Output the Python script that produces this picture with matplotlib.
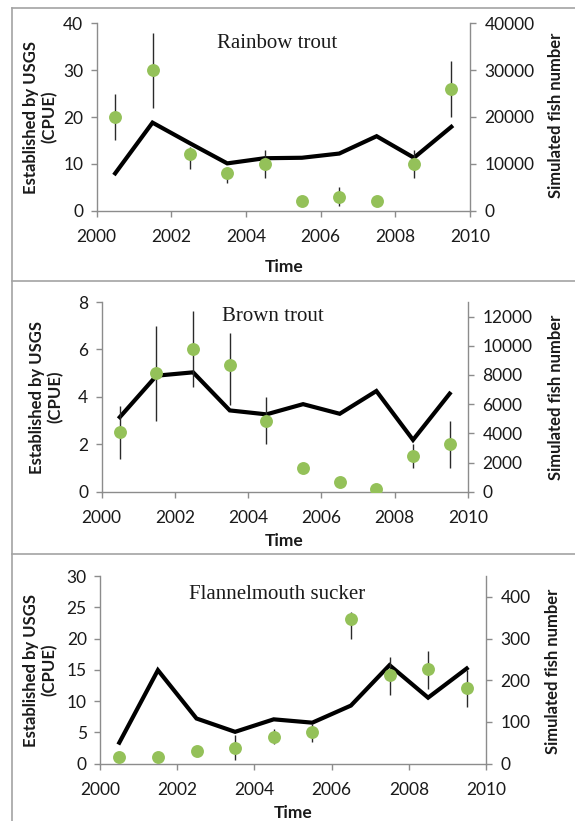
import matplotlib
matplotlib.use('Agg')
import matplotlib.pyplot as plt
from matplotlib.lines import Line2D
import numpy as np

W, H = 575, 821

# ---------------- data ----------------
years = [2000.5, 2001.5, 2002.5, 2003.5, 2004.5, 2005.5, 2006.5, 2007.5, 2008.5, 2009.5]
x_ticks = [2000, 2002, 2004, 2006, 2008, 2010]

rb_cpue = [20, 30, 12, 8, 10, 2, 3, 2, 10, 26]
rb_low = [15, 22, 9, 6, 7, 2, 1, 2, 7, 20]
rb_high = [25, 38, 13.5, 9, 13, 2, 5, 2, 13, 32]
rb_sim = [7970, 18800, 14400, 10100, 11200, 11300, 12200, 15900, 11300, 17900]

bt_cpue = [2.5, 5.0, 6.0, 5.33, 3.0, 1.0, 0.42, 0.13, 1.5, 2.0]
bt_low = [1.4, 3.0, 4.4, 3.65, 2.0, 1.0, 0.42, 0.13, 1.0, 1.0]
bt_high = [3.6, 7.0, 7.6, 6.7, 4.0, 1.0, 0.42, 0.13, 2.0, 3.0]
bt_sim = [5110, 7950, 8180, 5570, 5300, 6000, 5340, 6900, 3550, 6720]

fs_cpue = [1.07, 1.07, 2.03, 2.5, 4.27, 5.07, 23.1, 14.1, 15.2, 12.1]
fs_low = [1.07, 1.07, 2.03, 0.5, 3.2, 3.5, 20.0, 11.0, 12.0, 9.0]
fs_high = [1.07, 1.07, 2.03, 4.5, 5.45, 6.4, 24.3, 17.0, 18.0, 15.0]
fs_sim = [50, 224, 108, 76, 106, 98, 139, 236, 158, 228]

titles = ["Rainbow trout", "Brown trout", "Flannelmouth sucker"]
left_ticks = [[0, 10, 20, 30, 40], [0, 2, 4, 6, 8], [0, 5, 10, 15, 20, 25, 30]]
right_ticks = [[0, 10000, 20000, 30000, 40000],
               [0, 2000, 4000, 6000, 8000, 10000, 12000],
               [0, 100, 200, 300, 400]]
left_lims = [40, 8, 30]
right_lims = [40000, 13000, 450]

# ---------------- layout (pixels) ----------------
panels = [
    dict(l=96.5, r=470, t=23.3, b=210.7, title=(277, 44), ylab=(40, 117), rlab=(556, 115), time=(284, 267)),
    dict(l=101.5, r=468, t=302, b=491.7, title=(273, 316), ylab=(46, 397), rlab=(556, 397), time=(284, 541)),
    dict(l=100, r=486, t=576, b=763.5, title=(277.5, 594), ylab=(40, 670), rlab=(553, 671), time=(293, 813)),
]
cpue = [rb_cpue, bt_cpue, fs_cpue]
lows = [rb_low, bt_low, fs_low]
highs = [rb_high, bt_high, fs_high]
sims = [rb_sim, bt_sim, fs_sim]

GREEN = '#94c159'
GRAY = '#8c8c8c'
TXT = '#1a1a1a'
SANS = ['Lato', 'DejaVu Sans']
SERIF = ['Liberation Serif', 'DejaVu Serif']
TFS = 12.5

fig = plt.figure(figsize=(W / 100, H / 100), dpi=100)


def fx(px):
    return px / W


def fy(py):
    return 1 - py / H


for i, p in enumerate(panels):
    rect = [fx(p['l']), fy(p['b']), fx(p['r']) - fx(p['l']), (p['b'] - p['t']) / H]
    ax = fig.add_axes(rect)
    ax2 = ax.twinx()

    # simulated line on secondary axis
    ax2.plot(years, sims[i], color='black', lw=3.0, solid_joinstyle='miter', zorder=2)
    ax2.set_ylim(0, right_lims[i])
    ax2.set_yticks(right_ticks[i])
    ax2.set_yticklabels([str(v) for v in right_ticks[i]], fontfamily=SANS, fontsize=TFS, color=TXT)

    # observed CPUE with error bars on primary axis
    c = np.array(cpue[i], dtype=float)
    lo = c - np.array(lows[i], dtype=float)
    hi = np.array(highs[i], dtype=float) - c
    ax.errorbar(years, c, yerr=[lo, hi], fmt='none', ecolor='#2a2a2a', elinewidth=1.0, capsize=0, zorder=3)
    ax.plot(years, c, 'o', color=GREEN, markersize=9.3, markeredgewidth=0, zorder=4)
    ax.set_ylim(0, left_lims[i])
    ax.set_yticks(left_ticks[i])
    ax.set_yticklabels([str(v) for v in left_ticks[i]], fontfamily=SANS, fontsize=TFS, color=TXT)
    ax.set_xlim(2000, 2010)
    ax.set_xticks(x_ticks)
    ax.set_xticklabels([str(v) for v in x_ticks], fontfamily=SANS, fontsize=TFS, color=TXT)

    ax.set_zorder(ax2.get_zorder() + 1)
    ax.patch.set_visible(False)

    for a in (ax, ax2):
        a.spines['top'].set_visible(False)
        for s in a.spines.values():
            s.set_color(GRAY)
            s.set_linewidth(1.0)
    ax.spines['right'].set_visible(False)
    ax2.spines['left'].set_visible(False)
    ax2.spines['bottom'].set_visible(False)

    ax.tick_params(axis='y', direction='out', length=4.5, width=1, color=GRAY, pad=5)
    ax.tick_params(axis='x', direction='out', length=4.5, width=1, color=GRAY, pad=9)
    ax2.tick_params(axis='y', direction='out', length=4.5, width=1, color=GRAY, pad=6)

    fig.text(fx(p['title'][0]), fy(p['title'][1]), titles[i], family=SERIF, fontsize=15,
             ha='center', va='center', color=TXT)
    fig.text(fx(p['ylab'][0]), fy(p['ylab'][1]), 'Established by USGS\n(CPUE)', family=SANS,
             fontweight='bold', fontsize=12, rotation=90, ha='center', va='center',
             multialignment='center', linespacing=1.15, color=TXT)
    fig.text(fx(p['rlab'][0]), fy(p['rlab'][1]), 'Simulated fish number', family=SANS,
             fontweight='bold', fontsize=12, rotation=90, ha='center', va='center', color=TXT)
    fig.text(fx(p['time'][0]), fy(p['time'][1]), 'Time', family=SANS,
             fontweight='bold', fontsize=12.5, ha='center', va='center', color=TXT)

# panel frame lines
BORDER = '#a3a3a3'
fig.add_artist(Line2D([fx(11.5), fx(11.5)], [fy(8), fy(821)], color=BORDER, lw=1.2, transform=fig.transFigure))
for yy in (8, 281, 554):
    fig.add_artist(Line2D([fx(11.5), fx(575)], [fy(yy), fy(yy)], color=BORDER, lw=1.2, transform=fig.transFigure))

fig.savefig('out.png', dpi=100)
